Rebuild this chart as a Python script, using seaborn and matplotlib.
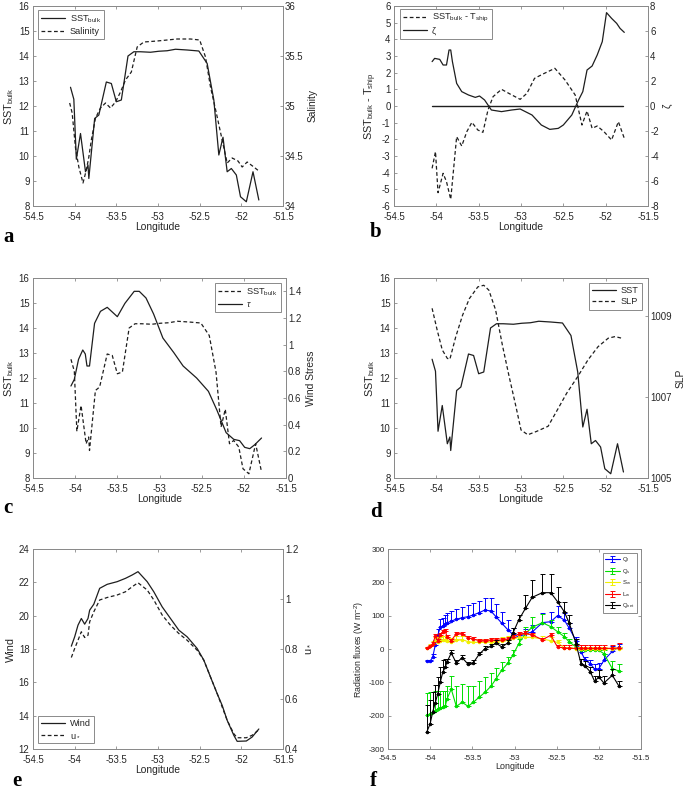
import numpy as np
import pandas as pd
import matplotlib
matplotlib.use("Agg")
import matplotlib.pyplot as plt
import seaborn as sns
from matplotlib.ticker import FixedLocator, FuncFormatter

# ---------------- data ----------------
lon_sst = [-54.05, -54.01, -53.98, -53.93, -53.87, -53.84, -53.83, -53.76, -53.71, -53.62, -53.56,
           -53.50, -53.44, -53.36, -53.29, -53.21, -53.09, -52.99, -52.89, -52.79, -52.65, -52.51,
           -52.41, -52.33, -52.27, -52.22, -52.17, -52.12, -52.06, -52.01, -51.94, -51.86, -51.79]
sst = [12.75, 12.27, 9.87, 10.9, 9.37, 9.64, 9.1, 11.5, 11.64, 12.96, 12.9,
       12.17, 12.24, 14.0, 14.17, 14.17, 14.15, 14.19, 14.21, 14.27, 14.24, 14.2,
       13.7, 12.24, 10.04, 10.75, 9.37, 9.5, 9.24, 8.37, 8.17, 9.37, 8.24]

lon_sal = [-54.06, -54.03, -53.99, -53.95, -53.90, -53.86, -53.83, -53.80, -53.75, -53.69, -53.63,
           -53.57, -53.51, -53.45, -53.39, -53.32, -53.25, -53.17, -53.01, -52.77, -52.61, -52.50,
           -52.43, -52.37, -52.30, -52.23, -52.17, -52.11, -52.04, -51.99, -51.93, -51.85, -51.79]
salinity = [35.03, 34.93, 34.58, 34.39, 34.23, 34.36, 34.49, 34.66, 34.88, 34.98, 35.03,
            34.98, 35.04, 35.14, 35.26, 35.34, 35.59, 35.64, 35.65, 35.67, 35.67, 35.66,
            35.49, 35.19, 34.93, 34.66, 34.43, 34.48, 34.45, 34.39, 34.44, 34.39, 34.35]

lon_dT = [-54.05, -54.01, -53.98, -53.92, -53.88, -53.83, -53.76, -53.70, -53.64, -53.58, -53.51,
          -53.45, -53.39, -53.33, -53.23, -53.13, -53.01, -52.93, -52.84, -52.74, -52.60, -52.48,
          -52.36, -52.28, -52.22, -52.16, -52.10, -52.02, -51.93, -51.85, -51.78]
dT = [-3.74, -2.74, -5.2, -4.04, -4.54, -5.6, -1.84, -2.4, -1.54, -0.98, -1.44,
      -1.58, -0.24, 0.56, 1.0, 0.72, 0.4, 0.76, 1.66, 1.92, 2.26, 1.56,
      0.66, -1.14, -0.3, -1.34, -1.2, -1.54, -2.04, -0.94, -1.94]

lon_zeta = [-54.05, -54.02, -53.96, -53.92, -53.88, -53.85, -53.83, -53.81, -53.76, -53.70, -53.62,
            -53.54, -53.49, -53.43, -53.35, -53.23, -53.11, -53.01, -52.87, -52.76, -52.66, -52.56,
            -52.50, -52.40, -52.32, -52.27, -52.22, -52.16, -52.10, -52.04, -51.99, -51.93, -51.87,
            -51.83, -51.78]
zeta = [3.55, 3.81, 3.73, 3.28, 3.28, 4.48, 4.48, 3.55, 1.81, 1.15, 0.88,
        0.69, 0.8, 0.48, -0.32, -0.45, -0.32, -0.24, -0.72, -1.52, -1.87, -1.79,
        -1.52, -0.72, 0.48, 1.15, 2.88, 3.2, 4.08, 5.15, 7.47, 7.01, 6.61,
        6.21, 5.89]

lon_tau = [-54.05, -54.01, -53.96, -53.91, -53.88, -53.86, -53.83, -53.77, -53.70, -53.62, -53.50,
           -53.41, -53.30, -53.24, -53.16, -53.07, -52.96, -52.83, -52.72, -52.56, -52.42, -52.32,
           -52.21, -52.12, -52.05, -51.99, -51.93, -51.87, -51.79]
tau = [0.69, 0.74, 0.89, 0.96, 0.93, 0.84, 0.84, 1.16, 1.25, 1.28, 1.21,
       1.31, 1.40, 1.40, 1.35, 1.23, 1.05, 0.94, 0.84, 0.75, 0.65, 0.51,
       0.34, 0.29, 0.28, 0.23, 0.22, 0.25, 0.30]

lon_slp = [-54.05, -53.99, -53.93, -53.87, -53.84, -53.77, -53.69, -53.61, -53.51, -53.44, -53.38,
           -53.30, -53.22, -53.14, -53.06, -53.00, -52.92, -52.82, -52.68, -52.58, -52.46, -52.33,
           -52.21, -52.09, -51.97, -51.89, -51.81]
slp = [1009.2, 1008.66, 1008.17, 1007.96, 1007.94, 1008.5, 1009.03, 1009.44, 1009.73, 1009.77, 1009.65,
       1009.16, 1008.29, 1007.51, 1006.77, 1006.19, 1006.07, 1006.15, 1006.28, 1006.65, 1007.1, 1007.51,
       1007.92, 1008.25, 1008.46, 1008.5, 1008.46]

lon_wind = [-54.04, -54.00, -53.96, -53.92, -53.88, -53.84, -53.82, -53.77, -53.70, -53.61, -53.49,
            -53.39, -53.31, -53.24, -53.13, -53.05, -52.95, -52.85, -52.75, -52.65, -52.53, -52.45,
            -52.37, -52.29, -52.23, -52.17, -52.09, -52.05, -51.94, -51.87, -51.79]
wind = [18.17, 18.73, 19.43, 19.83, 19.49, 19.83, 20.33, 20.69, 21.64, 21.88, 22.04,
        22.24, 22.44, 22.64, 22.04, 21.43, 20.53, 19.83, 19.13, 18.73, 18.03, 17.33,
        16.32, 15.32, 14.62, 13.72, 12.82, 12.46, 12.48, 12.72, 13.2]
ustar = [0.766, 0.802, 0.835, 0.869, 0.846, 0.855, 0.909, 0.949, 0.996, 1.006, 1.016,
         1.029, 1.049, 1.065, 1.036, 0.996, 0.936, 0.895, 0.862, 0.835, 0.795, 0.755,
         0.688, 0.622, 0.568, 0.515, 0.461, 0.445, 0.445, 0.455, 0.477]

lon_flux = [-54.04, -54.00, -53.97, -53.94, -53.91, -53.88, -53.85, -53.82, -53.80, -53.75, -53.69,
            -53.62, -53.55, -53.49, -53.42, -53.35, -53.28, -53.22, -53.15, -53.08, -53.02, -52.95,
            -52.87, -52.79, -52.67, -52.57, -52.49, -52.41, -52.35, -52.27, -52.21, -52.16, -52.10,
            -52.05, -52.00, -51.94, -51.84, -51.76]
Ql = [-37, -37, -24, 11, 41, 66, 69, 74, 78, 84, 89,
      94, 97, 102, 109, 117, 114, 97, 77, 58, 44, 36,
      46, 51, 79, 82, 100, 87, 62, 25, -9, -34, -44,
      -61, -59, -34, -7, 6]
Ql_err = [5, 5, 10, 15, 20, 25, 25, 28, 30, 30, 30,
          32, 34, 35, 36, 37, 38, 38, 35, 30, 20, 10,
          15, 20, 28, 30, 28, 20, 15, 10, 10, 10, 12,
          15, 18, 20, 15, 10]
Qs = [-199, -195, -190, -185, -180, -177, -174, -170, -150, -120, -172,
      -160, -172, -160, -145, -130, -112, -90, -63, -43, -19, 16,
      47, 65, 79, 67, 52, 37, 21, 6, -2, -4, -4,
      -4, -4, -14, -59, -66]
Qs_err = [67, 65, 62, 60, 55, 50, 48, 45, 40, 40, 62,
          55, 60, 50, 50, 45, 40, 32, 25, 20, 15, 15,
          20, 30, 25, 20, 15, 12, 10, 8, 8, 8, 8,
          8, 8, 10, 22, 22]
Sw = [3, 8, 15, 25, 22, 25, 28, 28, 25, 22, 28,
      28, 22, 20, 20, 20, 22, 22, 25, 28, 32, 35,
      35, 35, 30, 25, 20, 3, 2, 1, 1, 1, 1,
      1, 1, 1, 1, 1]
Sw_err = [4, 6, 8, 10, 10, 10, 10, 10, 10, 10, 10,
          10, 10, 10, 10, 10, 10, 10, 10, 10, 10, 10,
          10, 10, 10, 10, 8, 4, 4, 4, 4, 4, 4,
          4, 4, 4, 4, 4]
Lw = [3, 8, 15, 38, 25, 42, 52, 55, 35, 25, 46,
      46, 33, 30, 25, 25, 27, 27, 27, 30, 35, 45,
      47, 42, 28, 41, 6, 3, 2, 2, 2, 2, 2,
      2, 2, 2, 2, 3]
Lw_err = [4, 5, 5, 6, 6, 6, 6, 6, 6, 6, 6,
          6, 6, 6, 6, 6, 6, 6, 6, 6, 6, 6,
          6, 6, 6, 6, 6, 8, 10, 10, 10, 10, 10,
          10, 10, 10, 10, 15]
Qnet = [-249, -224, -189, -162, -134, -99, -69, -54, -39, -12, -42,
        -26, -46, -42, -16, 1, 8, 18, 6, 18, 47, 87,
        122, 155, 169, 169, 142, 112, 77, 16, -46, -52, -69,
        -97, -84, -102, -79, -112]
Qnet_err = [80, 70, 60, 55, 50, 45, 35, 25, 10, 8, 8,
            8, 8, 8, 8, 8, 8, 8, 8, 10, 15, 15,
            40, 53, 55, 55, 45, 30, 25, 15, 15, 15, 15,
            15, 20, 20, 20, 15]

x_ticks = [-54.5, -54, -53.5, -53, -52.5, -52, -51.5]

# ---------------- style ----------------
sns.set_style("ticks")
plt.rcParams['font.family'] = ['Liberation Sans', 'DejaVu Sans']
plt.rcParams['axes.unicode_minus'] = False
plt.rcParams['mathtext.default'] = 'regular'
plt.rcParams['mathtext.fontset'] = 'custom'
plt.rcParams['mathtext.rm'] = 'Liberation Sans'
plt.rcParams['mathtext.it'] = 'Liberation Sans:italic'

SPINE = '#8a8a8a'
TXT = '#262626'
LC = '#1e1e1e'
DASH = (0, (3, 2))
fmtg = FuncFormatter(lambda v, p: ('%g' % v))

fig = plt.figure(figsize=(6.85, 7.91), dpi=100)


def style_axes(ax, ax2, ylim, yticks, ylim2=None, yticks2=None, fs=6.9, lfs=7.4, xpad=4.6):
    ax.set_xlim(-54.5, -51.5)
    ax.xaxis.set_major_locator(FixedLocator(x_ticks))
    ax.xaxis.set_major_formatter(fmtg)
    ax.set_ylim(*ylim)
    ax.yaxis.set_major_locator(FixedLocator(yticks))
    ax.yaxis.set_major_formatter(fmtg)
    ax.tick_params(direction='in', length=2.5, width=0.6, labelsize=fs, colors=TXT,
                   top=True, right=(ax2 is None))
    ax.tick_params(axis='x', pad=xpad)
    ax.tick_params(axis='y', pad=2.5)
    ax.tick_params(axis='both', color=SPINE)
    for s in ax.spines.values():
        s.set_color(SPINE)
        s.set_linewidth(0.7)
    ax.set_xlabel('Longitude', fontsize=lfs, color=TXT, labelpad=0)
    if ax2 is not None:
        ax2.set_ylim(*ylim2)
        ax2.yaxis.set_major_locator(FixedLocator(yticks2))
        ax2.yaxis.set_major_formatter(fmtg)
        ax2.tick_params(direction='in', length=2.5, width=0.6, labelsize=fs, colors=TXT, pad=1.5)
        ax2.tick_params(axis='both', color=SPINE)
        for s in ax2.spines.values():
            s.set_color(SPINE)
            s.set_linewidth(0.7)


def leg(ax, handles, labels, loc, anchor, fs=6.6):
    lg = ax.legend(handles, labels, loc=loc, bbox_to_anchor=anchor, fontsize=fs, frameon=True,
                   fancybox=False, edgecolor=SPINE, framealpha=1, borderaxespad=0,
                   handlelength=2.6, borderpad=0.35, labelspacing=0.25, handletextpad=0.5)
    lg.get_frame().set_linewidth(0.7)
    for t in lg.get_texts():
        t.set_color(TXT)
    return lg


# ---------------- panel a ----------------
axa = fig.add_axes([33 / 685, 1 - 206 / 791, 250 / 685, 200 / 791])
axa2 = axa.twinx()
sns.lineplot(x=lon_sst, y=sst, ax=axa, color=LC, lw=0.9, sort=False, legend=False)
sns.lineplot(x=lon_sal, y=salinity, ax=axa2, color=LC, lw=0.9, linestyle=DASH, sort=False, legend=False)
style_axes(axa, axa2, (8, 16), list(range(8, 17)), (34, 36), [34, 34.5, 35, 35.5, 36])
axa.set_ylabel(r'SST$_{bulk}$', fontsize=7.8, color=TXT, labelpad=2)
axa2.set_ylabel('Salinity', fontsize=7.4, color=TXT, labelpad=3)
leg(axa2, [axa.get_lines()[0], axa2.get_lines()[0]], [r'SST$_{bulk}$', 'Salinity'],
    'upper left', (0.02, 0.98))

# ---------------- panel b ----------------
axb = fig.add_axes([394 / 685, 1 - 206 / 791, 254 / 685, 200 / 791])
axb2 = axb.twinx()
sns.lineplot(x=lon_dT, y=dT, ax=axb, color=LC, lw=0.9, linestyle=DASH, sort=False, legend=False)
axb.axhline(0, xmin=(lon_sst[0] + 54.5) / 3, xmax=(lon_sst[-1] + 54.5) / 3, color=LC, lw=1.0)
sns.lineplot(x=lon_zeta, y=zeta, ax=axb2, color=LC, lw=0.9, sort=False, legend=False)
style_axes(axb, axb2, (-6, 6), list(range(-6, 7)), (-8, 8), list(range(-8, 9, 2)))
axb.set_ylabel(r'SST$_{bulk}$ - T$_{ship}$', fontsize=7.8, color=TXT, labelpad=2)
axb2.set_ylabel('ζ', fontsize=7.4, color=TXT, labelpad=3)
leg(axb2, [axb.get_lines()[0], axb2.get_lines()[0]],
    [r'SST$_{bulk}$ - T$_{ship}$', 'ζ'], 'upper left', (0.024, 0.985))

# ---------------- panel c ----------------
axc = fig.add_axes([33 / 685, 1 - 478 / 791, 253 / 685, 200 / 791])
axc2 = axc.twinx()
sns.lineplot(x=lon_sst, y=sst, ax=axc, color=LC, lw=0.9, linestyle=DASH, sort=False, legend=False)
sns.lineplot(x=lon_tau, y=tau, ax=axc2, color=LC, lw=0.9, sort=False, legend=False)
style_axes(axc, axc2, (8, 16), list(range(8, 17)), (0, 1.5), [0, 0.2, 0.4, 0.6, 0.8, 1, 1.2, 1.4])
axc.set_ylabel(r'SST$_{bulk}$', fontsize=7.8, color=TXT, labelpad=2)
axc2.set_ylabel('Wind Stress', fontsize=7.4, color=TXT, labelpad=3)
leg(axc2, [axc.get_lines()[0], axc2.get_lines()[0]], [r'SST$_{bulk}$', r'$\it{\tau}$'],
    'upper right', (0.98, 0.975))

# ---------------- panel d ----------------
axd = fig.add_axes([394 / 685, 1 - 478 / 791, 254 / 685, 200 / 791])
axd2 = axd.twinx()
sns.lineplot(x=lon_sst, y=sst, ax=axd, color=LC, lw=0.9, sort=False, legend=False)
sns.lineplot(x=lon_slp, y=slp, ax=axd2, color=LC, lw=0.9, linestyle=DASH, sort=False, legend=False)
style_axes(axd, axd2, (8, 16), list(range(8, 17)), (1005, 1009.95), [1005, 1007, 1009])
axd.set_ylabel(r'SST$_{bulk}$', fontsize=7.8, color=TXT, labelpad=2)
axd2.set_ylabel('SLP', fontsize=7.4, color=TXT, labelpad=3)
leg(axd2, [axd.get_lines()[0], axd2.get_lines()[0]], ['SST', 'SLP'], 'upper right', (0.976, 0.975))

# ---------------- panel e ----------------
axe = fig.add_axes([33 / 685, 1 - 749 / 791, 250 / 685, 200 / 791])
axe2 = axe.twinx()
sns.lineplot(x=lon_wind, y=wind, ax=axe, color=LC, lw=0.9, sort=False, legend=False)
sns.lineplot(x=lon_wind, y=ustar, ax=axe2, color=LC, lw=0.9, linestyle=DASH, sort=False, legend=False)
style_axes(axe, axe2, (12, 24), list(range(12, 25, 2)), (0.4, 1.2), [0.4, 0.6, 0.8, 1, 1.2])
axe.set_ylabel('Wind', fontsize=7.8, color=TXT, labelpad=2)
axe2.set_ylabel(r'u$_*$', fontsize=7.8, color=TXT, labelpad=3)
leg(axe2, [axe.get_lines()[0], axe2.get_lines()[0]], ['Wind', r'u$_*$'], 'lower left', (0.02, 0.03))

# ---------------- panel f ----------------
axf = fig.add_axes([388 / 685, 1 - 749 / 791, 253 / 685, 200 / 791])
series = [(Ql, Ql_err, '#0000ff', r'Q$_l$'),
          (Qs, Qs_err, '#00e000', r'Q$_s$'),
          (Sw, Sw_err, '#f0f000', r'S$_w$'),
          (Lw, Lw_err, '#ff0000', r'L$_w$'),
          (Qnet, Qnet_err, '#000000', r'Q$_{net}$')]
handles, labels = [], []
for vals, err, col, lab in series:
    sns.lineplot(x=lon_flux, y=vals, ax=axf, color=col, lw=0.8, marker='.', ms=3.5,
                 mec=col, sort=False, legend=False)
    axf.errorbar(lon_flux, vals, yerr=[np.zeros(len(err)), err], fmt='none', ecolor=col,
                 elinewidth=0.7, capsize=1.8, capthick=0.7)
    h = axf.errorbar([np.nan], [np.nan], yerr=[[0], [1]], fmt='-', color=col, lw=0.8,
                     elinewidth=0.7, capsize=1.8, capthick=0.7)
    handles.append(h)
    labels.append(lab)
style_axes(axf, None, (-300, 300), list(range(-300, 301, 100)), fs=5.8, lfs=6.4, xpad=4.0)
axf.set_ylabel(r'Radiation fluxes (W m$^{-2}$)', fontsize=6.3, color=TXT, labelpad=2)
lgf = axf.legend(handles, labels, loc='upper right', bbox_to_anchor=(0.984, 0.98), fontsize=4.3,
                 frameon=True, fancybox=False, edgecolor=SPINE, framealpha=1, borderaxespad=0,
                 handlelength=2.4, borderpad=0.4, labelspacing=0.42, handletextpad=0.4)
lgf.get_frame().set_linewidth(0.7)

# ---------------- panel letters ----------------
lf = dict(fontsize=15, fontweight='bold', family=['Liberation Serif', 'DejaVu Serif'],
          va='baseline', ha='left', color='black')
fig.text(3 / 685, 1 - 242 / 791, 'a', **lf)
fig.text(370 / 685, 1 - 237 / 791, 'b', **lf)
fig.text(3 / 685, 1 - 513 / 791, 'c', **lf)
fig.text(370 / 685, 1 - 517 / 791, 'd', **lf)
fig.text(12 / 685, 1 - 786 / 791, 'e', **lf)
fig.text(370 / 685, 1 - 786 / 791, 'f', **lf)

fig.savefig('out.png', dpi=100)
